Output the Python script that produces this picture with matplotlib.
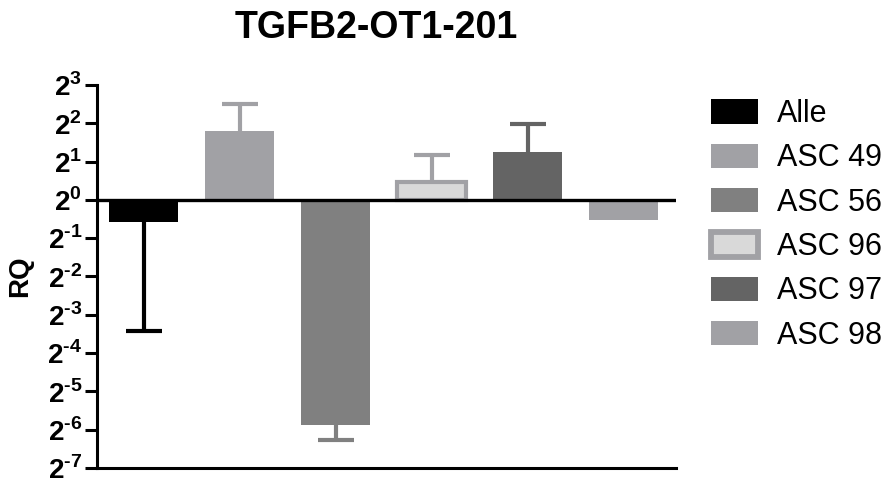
import matplotlib
matplotlib.use("Agg")
import matplotlib.pyplot as plt
from matplotlib.patches import Patch

plt.rcParams['font.family'] = ['Liberation Sans', 'DejaVu Sans']
plt.rcParams['mathtext.fontset'] = 'custom'
plt.rcParams['mathtext.rm'] = 'Liberation Sans:bold'

# data (RQ)
groups = ["Alle", "ASC 49", "ASC 56", "ASC 96", "ASC 97", "ASC 98"]
rq = [0.67, 3.46, 0.017, 1.38, 2.36, 0.70]
err_end = [0.093, 5.70, 0.0130, 2.25, 3.92, 0.70]   # one-sided error bar end
exponents = [3, 2, 1, 0, -1, -2, -3, -4, -5, -6, -7]

fills = ["#000000", "#a1a1a5", "#808080", "#d9d9d9", "#646464", "#a1a1a5"]
edges = ["#000000", "#a1a1a5", "#808080", "#a1a1a5", "#646464", "#a1a1a5"]
edge_w = [0, 0, 0, 3, 0, 0]

fig = plt.figure(figsize=(8.89, 4.79), dpi=100)
ax = fig.add_axes([0.109, 0.023, 0.651, 0.7996])

ax.set_yscale('log', base=2)
x = list(range(len(groups)))
cap = 0.19
for i in x:
    # error bar only on the outer side of the bar
    ax.vlines(i, rq[i], err_end[i], color=edges[i], lw=3, zorder=1)
    if err_end[i] != rq[i]:
        ax.hlines(err_end[i], i - cap, i + cap, color=edges[i], lw=3, zorder=1)
    ax.bar(i, rq[i] - 1, bottom=1, width=0.72, color=fills[i],
           edgecolor=edges[i], linewidth=edge_w[i], zorder=2)

ax.axhline(1, color='black', lw=2.4, zorder=3)
ax.set_xlim(-0.49, 5.54)
ax.set_ylim(2.0 ** -7, 2.0 ** 3)
ax.set_xticks([])
ax.set_yticks([2.0 ** e for e in exponents])
ax.set_yticklabels([r'$2^{\text{%d}}$' % e for e in exponents], fontsize=20)
ax.yaxis.set_minor_locator(matplotlib.ticker.NullLocator())
ax.tick_params(axis='y', length=8.6, width=2.2, pad=2)
for s in ['top', 'right']:
    ax.spines[s].set_visible(False)
for s in ['left', 'bottom']:
    ax.spines[s].set_linewidth(2.2)
ax.set_ylabel("RQ", fontsize=20, fontweight='bold')
ax.yaxis.set_label_coords(-0.1105, 0.5)

fig.text(0.423, 0.942, "TGFB2-OT1-201", fontsize=27, fontweight='bold',
         ha='center', va='center')

handles = [Patch(facecolor=fills[i], edgecolor=edges[i], linewidth=edge_w[i] * 1.4)
           for i in x]
fig.legend(handles, groups, loc='upper left', bbox_to_anchor=(711 / 889, 1 - 99 / 479),
           bbox_transform=fig.transFigure, frameon=False, fontsize=22,
           handlelength=1.55, handleheight=0.85, handletextpad=0.62,
           labelspacing=0.47, borderpad=0, borderaxespad=0)

fig.savefig("out.png", dpi=100)
